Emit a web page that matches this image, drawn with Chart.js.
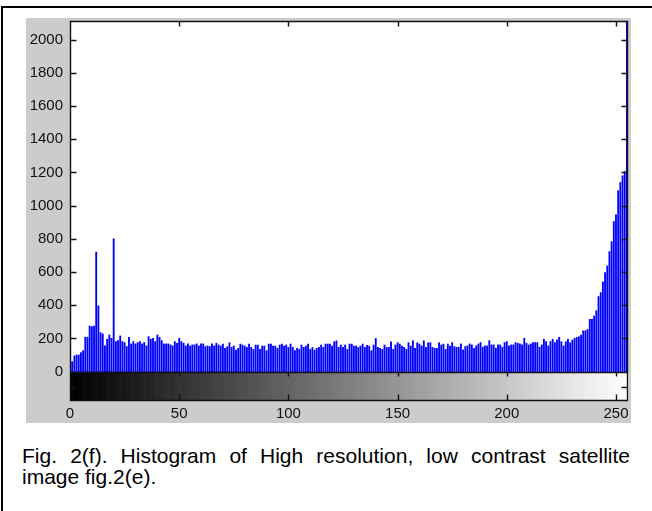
<!DOCTYPE html>
<html>
<head>
<meta charset="utf-8">
<script src="https://cdn.jsdelivr.net/npm/chart.js@4.4.0/dist/chart.umd.min.js"></script>
<style>
  html, body { margin: 0; padding: 0; background: #fff; }
  body { width: 652px; height: 511px; position: relative; overflow: hidden; font-family: "Liberation Sans", Arial, sans-serif; }
  #frame { position: absolute; left: 1px; top: 6px; width: 700px; height: 600px; border-top: 2px solid #000; border-left: 2px solid #000; }
  #wrap { position: absolute; left: 26px; top: 18px; width: 605px; height: 405px; background: #cccccc; }
  #caption { position: absolute; left: 22px; top: 445px; width: 608px; font-size: 21px; line-height: 21px; color: #000; }
  .l1 { text-align: justify; text-align-last: justify; }
</style>
</head>
<body>
<div id="frame"></div>
<div id="wrap"><canvas id="histo" width="605" height="405"></canvas></div>
<div id="caption">
  <div class="l1">Fig. 2(f). Histogram of High resolution, low contrast satellite</div>
  <div>image fig.2(e).</div>
</div>
<script>
// niveaux de gris 0..255 (catégories)
const grayLevels = Array.from({ length: 256 }, (_, i) => i);

// nombre de pixels par niveau
const pixelCounts = [
  321, 60, 94, 100, 100, 114, 126, 207, 207, 275,
  271, 275, 720, 396, 235, 227, 155, 195, 221, 201,
  800, 181, 187, 215, 181, 175, 151, 207, 167, 181,
  167, 175, 181, 167, 175, 155, 211, 195, 201, 181,
  221, 207, 187, 167, 167, 167, 161, 155, 181, 171,
  201, 181, 171, 155, 167, 155, 161, 161, 167, 155,
  167, 167, 151, 155, 151, 167, 155, 171, 161,
  154, 166, 140, 150, 174, 146, 154, 130, 140, 166, 160, 154, 146,
  166, 146, 134, 160, 160, 134, 154, 154, 126, 166,
  166, 154, 154, 140, 160, 166, 154, 160, 146, 166,
  146, 126, 140, 134, 160, 146, 154, 166, 134, 146,
  130, 140, 146, 160, 146, 166, 166, 166, 154, 180,
  186, 146, 160, 146, 160, 134, 166, 166, 154, 154,
  146, 154, 166, 146, 158, 154, 126, 160, 200, 146,
  140, 134, 160, 146, 146, 180, 134, 160, 174, 166,
  154, 146, 134, 174, 154, 186, 140, 174, 166, 154,
  186, 146, 174, 174, 146, 140, 140, 174, 160, 166,
  134, 166, 154,
  175, 151, 147, 147, 167, 131, 151, 155, 167, 161,
  141, 155, 167, 175, 147, 155, 155, 187, 161, 161,
  141, 161, 161, 147, 175, 181, 155, 161, 161, 175,
  171, 167, 161, 201, 171, 161, 167, 175, 175, 175,
  147, 161, 195, 181, 155, 181, 195, 175, 191, 207,
  180, 154, 180, 194, 174, 190, 200, 206, 210, 220,
  246, 246, 254, 315, 315, 335, 367, 452, 476, 540,
  596, 636, 723, 783, 904, 944, 1090, 1139, 1180, 1205,
  2112
];

const yTicks = [0, 200, 400, 600, 800, 1000, 1200, 1400, 1600, 1800, 2000];
const xTicks = [0, 50, 100, 150, 200, 250];

// bas de la barre de couleur (sous zéro) et haut de l'axe
const yBottom = -177;
const yTop = 2112;

// cadre + graduations vers l'intérieur (style MATLAB)
function drawFrame(chart) {
  const ctx = chart.ctx;
  const a = chart.chartArea;
  const xs = chart.scales.x, ys = chart.scales.y;
  const px = v => Math.round(v) + 0.5;
  const L = px(a.left), R = px(a.right) - 1, T = px(a.top), B = px(a.bottom) - 1;
  const y0 = px(ys.getPixelForValue(0));
  ctx.save();
  ctx.strokeStyle = '#111';
  ctx.lineWidth = 1.4;
  ctx.beginPath();
  ctx.moveTo(L, T); ctx.lineTo(R, T); ctx.lineTo(R, B); ctx.lineTo(L, B); ctx.closePath();
  ctx.moveTo(L, y0); ctx.lineTo(R, y0);
  yTicks.forEach(v => {
    const yy = px(ys.getPixelForValue(v));
    ctx.moveTo(L, yy); ctx.lineTo(L + 6, yy);
    ctx.moveTo(R, yy); ctx.lineTo(R - 6, yy);
  });
  xTicks.forEach(v => {
    const xx = px(xs.getPixelForValue(v));
    ctx.moveTo(xx, T); ctx.lineTo(xx, T + 5);
    ctx.moveTo(xx, y0); ctx.lineTo(xx, y0 + 4);
    ctx.moveTo(xx, B); ctx.lineTo(xx, B - 6);
  });
  const ym = px((y0 + B) / 2);
  ctx.moveTo(L, ym); ctx.lineTo(L + 6, ym);
  ctx.moveTo(R, ym); ctx.lineTo(R - 6, ym);
  ctx.stroke();
  ctx.restore();
}

const matlabAxes = {
  id: 'matlabAxes',
  // fond blanc et barre de dégradé sous l'histogramme
  beforeDraw(chart) {
    const { ctx, chartArea: a, scales: { x, y } } = chart;
    const y0 = y.getPixelForValue(0);
    ctx.save();
    ctx.fillStyle = '#fff';
    ctx.fillRect(a.left, a.top, a.right - a.left, y0 - a.top);
    grayLevels.forEach(g => {
      const x1 = x.getPixelForValue(g);
      const x2 = Math.min(x.getPixelForValue(g + 1), a.right);
      ctx.fillStyle = `rgb(${g},${g},${g})`;
      ctx.fillRect(x1, y0, x2 - x1 + 0.6, a.bottom - y0);
    });
    ctx.restore();
  },
  afterDatasetsDraw(chart) {
    drawFrame(chart);
  }
};

const tickFont = { family: 'Liberation Sans', size: 15 };

new Chart(document.getElementById('histo'), {
  type: 'bar',
  data: {
    datasets: [{
      data: grayLevels.map((g, i) => ({ x: g, y: pixelCounts[i] })),
      backgroundColor: '#0000ff',
      borderWidth: 0,
      barThickness: 1.2
    }]
  },
  options: {
    responsive: false,
    animation: false,
    layout: { padding: { top: 3, right: 3, left: 0, bottom: 0 } },
    plugins: { legend: { display: false }, tooltip: { enabled: false } },
    scales: {
      x: {
        type: 'linear',
        min: 0,
        max: 255.5,
        offset: false,
        grid: { display: false, drawTicks: false },
        border: { display: false },
        ticks: { padding: 4, color: '#111', font: tickFont, maxRotation: 0, autoSkip: false, callback: v => String(v) },
        afterBuildTicks: s => { s.ticks = xTicks.map(v => ({ value: v })); },
        afterFit: s => { s.height = 22; s.paddingLeft = 0; s.paddingRight = 0; }
      },
      y: {
        type: 'linear',
        min: yBottom,
        max: yTop,
        grid: { display: false, drawTicks: false },
        border: { display: false },
        ticks: { padding: 7, color: '#111', font: tickFont, callback: v => String(v) },
        afterBuildTicks: s => { s.ticks = yTicks.map(v => ({ value: v })); },
        afterFit: s => { s.width = 44; s.paddingTop = 0; s.paddingBottom = 0; }
      }
    }
  },
  plugins: [matlabAxes]
});
</script>
</body>
</html>
